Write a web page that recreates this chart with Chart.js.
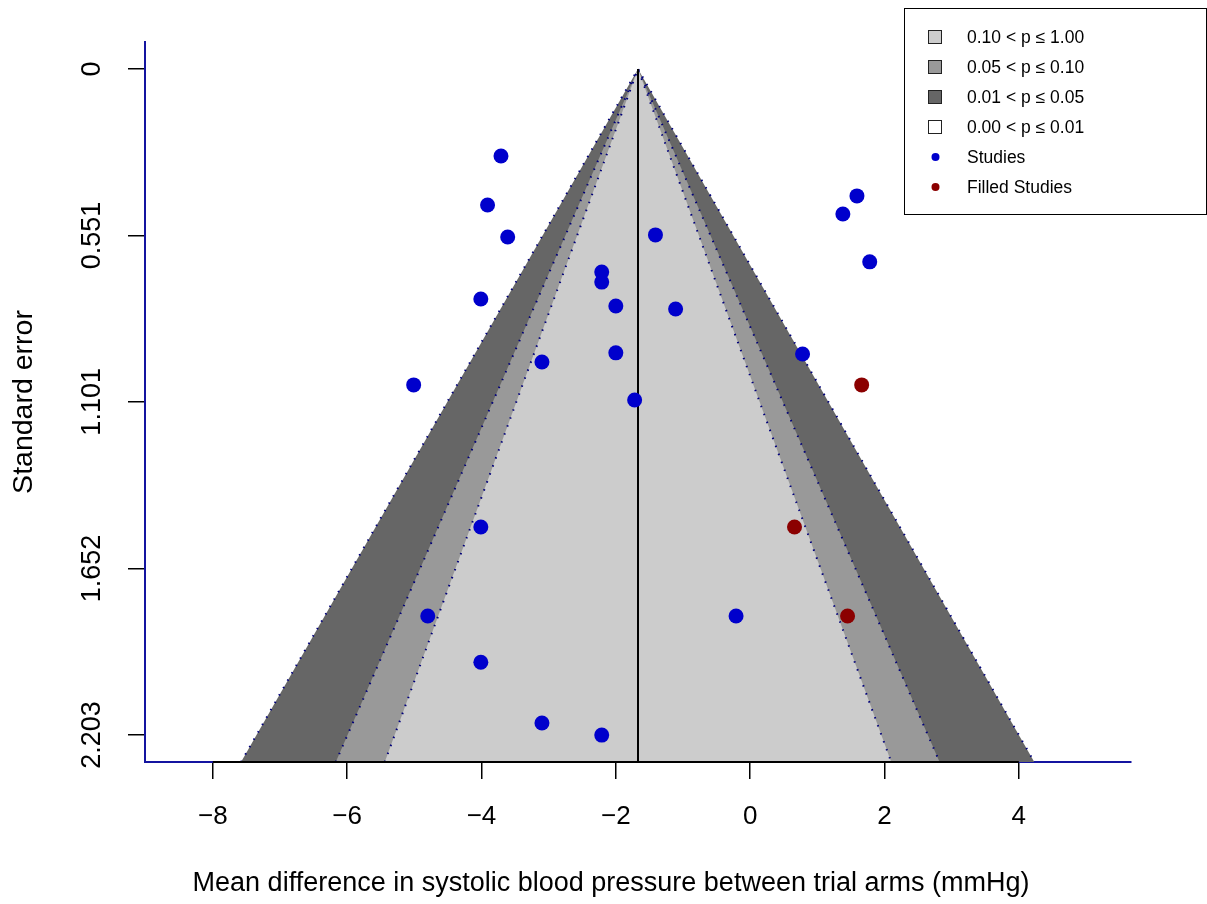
<!DOCTYPE html>
<html>
<head>
<meta charset="utf-8">
<title>Contour-enhanced funnel plot</title>
<script src="https://cdn.jsdelivr.net/npm/chart.js@4"></script>
<style>
  html, body { margin: 0; padding: 0; background: #fff; }
  #wrap { width: 1207px; height: 904px; }
</style>
</head>
<body>
<div id="wrap"><canvas id="funnelChart"></canvas></div>
<script>
// observed studies: effect (mmHg) and standard error
const studyEffect = [-3.71, -3.91, -3.61, -4.01, -5.01, -3.10, -2.21, -2.21, -2.00, -2.00, -1.41, -1.11,
  -1.72, 0.78, 1.59, 1.38, 1.78, -4.01, -4.80, -4.01, -3.10, -2.21, -0.21];
const studySE = [0.288, 0.450, 0.556, 0.761, 1.045, 0.969, 0.672, 0.705, 0.784, 0.939, 0.549, 0.794,
  1.095, 0.943, 0.420, 0.480, 0.638, 1.515, 1.809, 1.962, 2.163, 2.203, 1.809];

// trim-and-fill imputed studies
const filledEffect = [1.66, 0.66, 1.45];
const filledSE = [1.045, 1.515, 1.809];

const pooledEffect = -1.67;
const seBottom = 2.292;

// contour edges at the bottom of the plot (p = 0.01, 0.05, 0.10)
const contourLeft = [-7.58, -6.17, -5.44];
const contourRight = [4.23, 2.82, 2.10];
const contourFill = ['#666666', '#999999', '#cccccc'];

const seTicks = [0, 0.551, 1.101, 1.652, 2.203];
const seTickLabels = ['0', '0.551', '1.101', '1.652', '2.203'];
const effectTicks = [-8, -6, -4, -2, 0, 2, 4];

const legendLabels = ['0.10 < p \u2264 1.00', '0.05 < p \u2264 0.10', '0.01 < p \u2264 0.05',
  '0.00 < p \u2264 0.01', 'Studies', 'Filled Studies'];
const legendColors = ['#cccccc', '#999999', '#666666', '#ffffff', '#0000cc', '#8b0000'];

const xTitle = 'Mean difference in systolic blood pressure between trial arms (mmHg)';

const axisBlue = '#1414a0';
const fontFamily = '"Liberation Sans", Arial, Helvetica, sans-serif';
Chart.defaults.font.family = fontFamily;
Chart.defaults.color = '#000';

const contourSets = contourLeft.map((lx, i) => ({
  type: 'line',
  data: [{x: lx, y: seBottom}, {x: pooledEffect, y: 0}, {x: contourRight[i], y: seBottom}],
  backgroundColor: contourFill[i],
  borderColor: '#00007a',
  borderWidth: 2,
  borderDash: [1.5, 7],
  pointRadius: 0,
  tension: 0,
  fill: {value: seBottom},
  order: 4 - i
}));

// rotated SE tick labels and the x title (R puts it left of the plot centre)
const axisText = {
  id: 'axisText',
  afterDraw(chart) {
    const {ctx} = chart;
    const y = chart.scales.y;
    ctx.save();
    ctx.font = '27px ' + fontFamily;
    ctx.fillStyle = '#000';
    ctx.textAlign = 'center';
    ctx.textBaseline = 'middle';
    seTicks.forEach((v, i) => {
      ctx.save();
      ctx.translate(93, y.getPixelForValue(v));
      ctx.rotate(-Math.PI / 2);
      ctx.fillText(seTickLabels[i], 0, 0);
      ctx.restore();
    });
    ctx.fillText(xTitle, 611, 884);
    ctx.restore();
  }
};

const legendBox = {
  id: 'legendBox',
  afterDraw(chart) {
    const {ctx} = chart;
    ctx.save();
    ctx.fillStyle = '#fff';
    ctx.fillRect(904, 8, 302, 206);
    ctx.strokeStyle = '#000';
    ctx.lineWidth = 1;
    ctx.strokeRect(904.5, 8.5, 302, 206);
    ctx.font = '17.5px ' + fontFamily;
    ctx.textBaseline = 'middle';
    legendLabels.forEach((txt, i) => {
      const cy = 37 + i * 30;
      if (i < 4) {
        ctx.fillStyle = legendColors[i];
        ctx.fillRect(928, cy - 7, 14, 14);
        ctx.strokeStyle = '#222';
        ctx.strokeRect(928.5, cy - 6.5, 13, 13);
      } else {
        ctx.fillStyle = legendColors[i];
        ctx.beginPath();
        ctx.arc(935.5, cy, 4, 0, Math.PI * 2);
        ctx.fill();
      }
      ctx.fillStyle = '#000';
      ctx.fillText(txt, 967, cy + 1);
    });
    ctx.restore();
  }
};

const chart = new Chart(document.getElementById('funnelChart'), {
  type: 'scatter',
  data: {
    datasets: [
      {
        label: 'Studies',
        data: studyEffect.map((x, i) => ({x: x, y: studySE[i]})),
        backgroundColor: '#0000cc',
        borderWidth: 0,
        pointRadius: 7.5,
        order: 0
      },
      {
        label: 'Filled Studies',
        data: filledEffect.map((x, i) => ({x: x, y: filledSE[i]})),
        backgroundColor: '#8b0000',
        borderWidth: 0,
        pointRadius: 7.5,
        order: 0
      },
      {
        type: 'line',
        data: [{x: pooledEffect, y: 0}, {x: pooledEffect, y: seBottom}],
        borderColor: '#000',
        borderWidth: 2,
        pointRadius: 0,
        order: 1
      },
      {
        type: 'line',
        data: [{x: effectTicks[0], y: seBottom}, {x: effectTicks[effectTicks.length - 1], y: seBottom}],
        borderColor: '#000',
        borderWidth: 2,
        pointRadius: 0,
        clip: false,
        order: 1
      },
      ...contourSets
    ]
  },
  options: {
    responsive: true,
    maintainAspectRatio: false,
    animation: false,
    events: [],
    layout: {
      padding: {top: 42, right: 76, left: 0, bottom: 0}
    },
    plugins: {
      legend: {display: false},
      tooltip: {enabled: false}
    },
    scales: {
      x: {
        type: 'linear',
        min: -9.01,
        max: 5.67,
        afterBuildTicks: (scale) => {
          scale.ticks = effectTicks.map(v => ({value: v}));
        },
        afterFit: (scale) => {
          scale.height = 142;
        },
        grid: {
          drawOnChartArea: false,
          drawTicks: true,
          tickLength: 17,
          color: '#000',
          lineWidth: 1.5
        },
        border: {
          color: axisBlue,
          width: 2
        },
        ticks: {
          font: {size: 26},
          color: '#000',
          padding: 22,
          maxRotation: 0,
          callback: (v) => (v < 0 ? '\u2212' + Math.abs(v) : String(v))
        },
        title: {display: false}
      },
      y: {
        type: 'linear',
        reverse: true,
        min: -0.089,
        max: seBottom,
        afterBuildTicks: (scale) => {
          scale.ticks = seTicks.map(v => ({value: v}));
        },
        afterFit: (scale) => {
          scale.width = 145;
        },
        grid: {
          drawOnChartArea: false,
          drawTicks: true,
          tickLength: 17,
          color: '#000',
          lineWidth: 1.5
        },
        border: {
          color: axisBlue,
          width: 2
        },
        ticks: {
          display: false
        },
        title: {
          display: true,
          text: 'Standard error',
          font: {size: 28.5},
          color: '#000',
          padding: {top: 7, bottom: 0}
        }
      }
    }
  },
  plugins: [axisText, legendBox]
});
</script>
</body>
</html>
